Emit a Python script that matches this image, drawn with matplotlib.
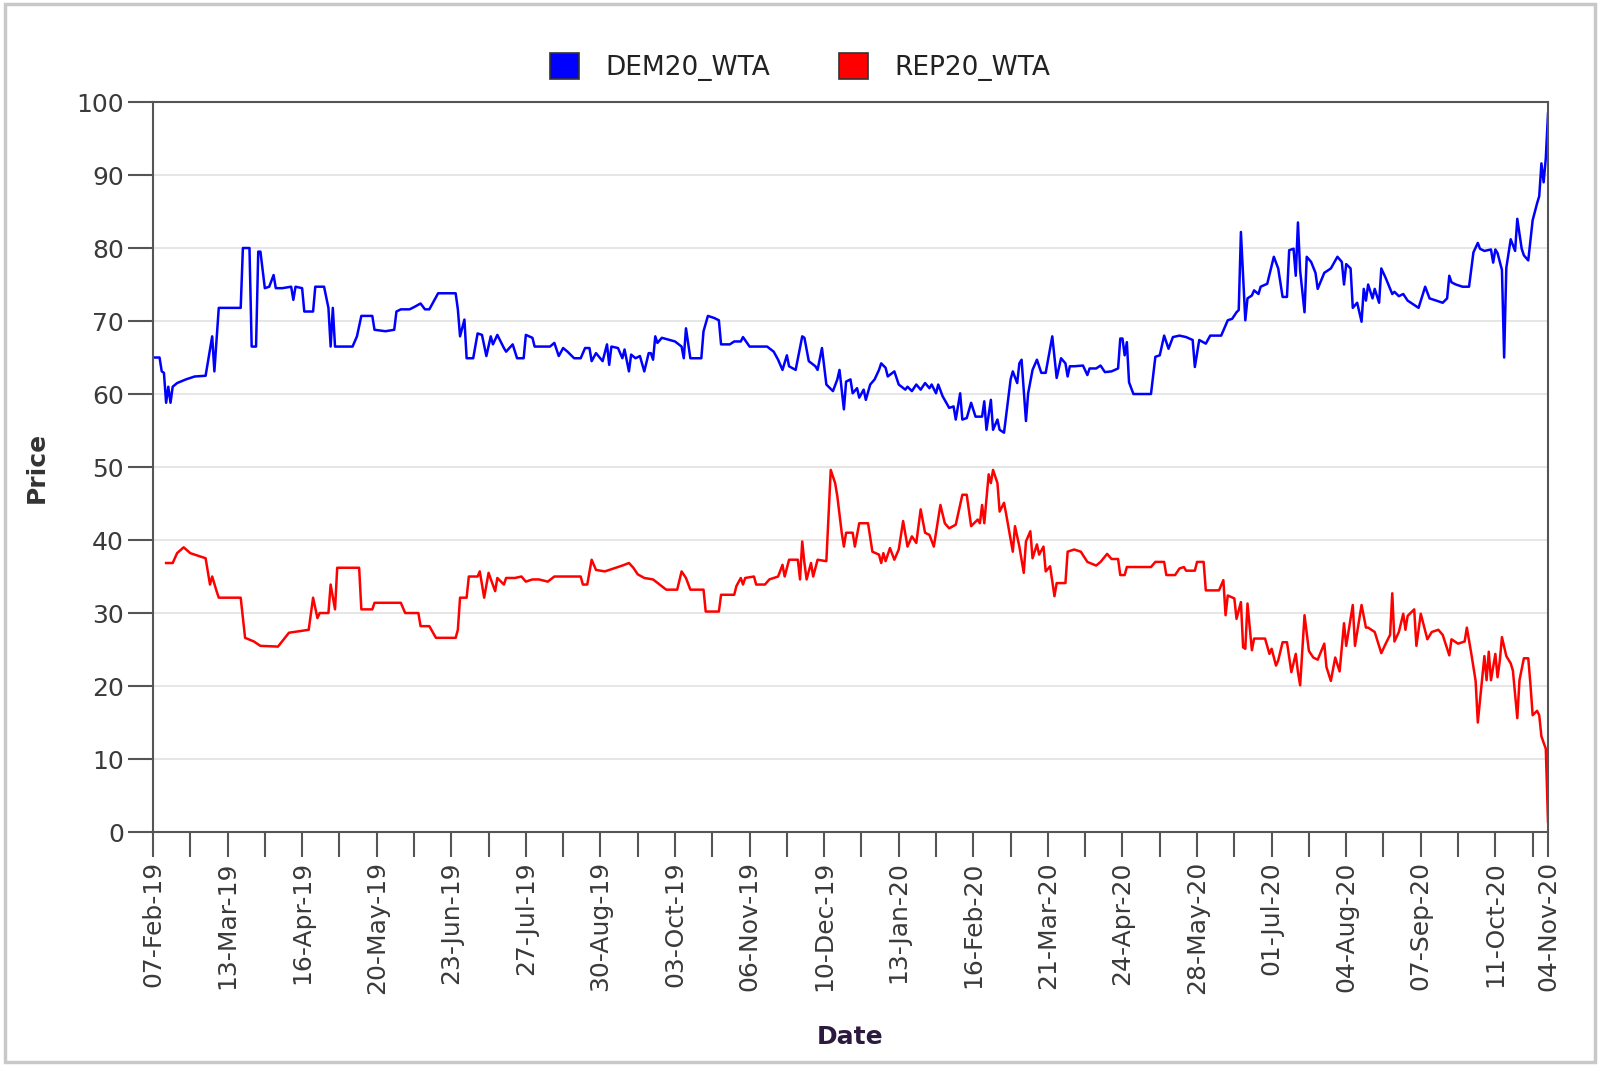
import datetime as dt
import matplotlib
matplotlib.use("Agg")
import matplotlib.pyplot as plt
import matplotlib.dates as mdates
from matplotlib.patches import Patch, Rectangle

# days counted from 07-Feb-2019, prices
start = dt.date(2019, 2, 7)
end = dt.date(2020, 11, 4)

dem_days = [0, 3, 4, 5, 6, 7, 8, 9, 11, 15, 19, 24, 27, 28, 30, 40, 41, 44, 45, 47, 48, 49, 51, 53, 55, 56, 59, 63,
            64, 65, 68, 69, 73, 74, 78, 80, 81, 82, 83, 91, 93, 95, 100, 101, 106,
            110, 111, 113, 117, 119, 122, 124, 126, 128, 130, 138, 139, 140, 142, 143, 146, 148, 150, 152, 154, 155,
            157, 160, 161, 164, 166, 169, 170, 173, 174, 181, 183, 185, 187, 189, 192, 195, 197, 199, 200, 202, 205,
            207, 208, 209,
            212, 214, 215, 217, 218, 220, 222, 224, 226, 227, 228, 229, 230, 232, 238, 241, 242, 243, 245, 250, 251,
            253, 256, 258, 259, 263, 265, 268, 269, 272, 280, 283, 285, 287, 289, 290, 293, 296, 297, 299, 302, 303,
            305, 307, 310, 312, 313, 315,
            316, 318, 319, 321, 322, 324, 325, 327, 329, 331, 332, 334, 335, 338, 340, 343, 344, 346, 348, 350, 352,
            354, 355, 357, 358, 360, 363, 365, 366, 368, 369, 371, 373, 375, 378, 379, 380, 382, 383, 385, 386, 388,
            391, 392, 394, 395, 396, 398, 399, 401, 403, 405, 407, 410, 412, 414, 416, 417, 418, 420,
            424, 426, 427, 430, 432, 434, 437, 440, 441, 442, 443, 444, 445, 447, 455, 457, 459, 461, 463, 465, 468,
            471, 474, 475, 477, 480, 482, 487, 490, 492, 494, 495, 496, 498, 499, 501, 502, 504, 505, 508, 511, 513,
            515, 517, 518, 520,
            521, 522, 523, 525, 526, 528, 530, 531, 534, 537, 540, 542, 543, 544, 546, 547, 549, 550, 551, 552, 553,
            554, 556, 557, 559, 560, 562, 565, 566, 568, 570, 572, 577, 580, 582, 585, 588, 590, 591, 592, 594, 597,
            600, 602, 604,
            605, 607, 610, 611, 612, 613, 615, 616, 617, 619, 621, 622, 624, 625, 627, 629, 631, 632, 633, 634, 635,
            636]
dem_price = [65, 65, 63.1, 62.9, 58.8, 61, 58.8, 61, 61.5, 62, 62.4, 62.5, 67.9, 63.1, 71.8, 71.8, 80, 80, 66.5,
             66.5, 79.5, 79.5, 74.5, 74.7, 76.3, 74.5, 74.5, 74.7, 72.9, 74.7, 74.5, 71.3, 71.3, 74.7, 74.7, 71.8,
             66.5, 71.8, 66.5, 66.5, 67.9, 70.7, 70.7, 68.8, 68.6,
             68.8, 71.3, 71.6, 71.6, 71.9, 72.4, 71.6, 71.6, 72.7, 73.8, 73.8, 71.6, 67.9, 70.2, 64.9, 64.9, 68.3,
             68.1, 65.2, 67.9, 66.8, 68.1, 66.3, 65.8, 66.8, 64.9, 64.9, 68.1, 67.7, 66.5, 66.5, 67, 65.2, 66.3,
             65.8, 64.9, 64.9, 66.3, 66.3, 64.5, 65.6, 64.5, 66.8, 64, 66.5,
             66.3, 64.9, 66.1, 63.1, 65.4, 64.9, 65.2, 63.1, 65.6, 65.6, 64.7, 67.9, 67, 67.7, 67.2, 66.5, 64.9, 69,
             64.9, 64.9, 68.6, 70.7, 70.4, 70.1, 66.8, 66.8, 67.2, 67.2, 67.8, 66.5, 66.5, 65.8, 64.7, 63.3, 65.3,
             63.8, 63.3, 67.9, 67.7, 64.5, 63.8, 63.3, 66.3, 61.3, 60.4, 62, 63.3, 57.9,
             61.7, 62, 60.1, 60.8, 59.5, 60.6, 59.2, 61.3, 62, 63.3, 64.2, 63.6, 62.4, 63.1, 61.3, 60.6, 61, 60.4,
             61.3, 60.6, 61.5, 60.8, 61.3, 60.1, 61.3, 59.7, 58.1, 58.3, 56.5, 60.1, 56.5, 56.7, 58.8, 56.9, 56.9,
             59, 55.1, 59.2, 55.1, 56.5, 55.1, 54.7, 62, 63.1, 61.5, 64.2, 64.7, 56.3, 60.1, 63.3, 64.7, 62.9, 62.9,
             67.9, 62.2, 64.9, 64.2, 62.4, 63.8, 63.8,
             63.9, 62.6, 63.5, 63.5, 63.9, 63, 63.1, 63.5, 67.6, 67.6, 65.3, 67.1, 61.6, 60, 60, 65.1, 65.3, 68, 66.2,
             67.8, 68, 67.8, 67.4, 63.7, 67.4, 66.9, 68, 68, 70.1, 70.3, 71.2, 71.5, 82.2, 70.1, 73.1, 73.5, 74.2,
             73.7, 74.7, 75.1, 78.8, 77.2, 73.3, 73.3, 79.7, 79.9,
             76.2, 83.5, 76.9, 71.2, 78.8, 78.1, 76.6, 74.4, 76.6, 77.2, 78.8, 78.1, 75, 77.8, 77.2, 71.8, 72.5,
             71.2, 69.9, 74.4, 72.8, 75, 73.1, 74.4, 72.5, 77.2, 75.9, 73.7, 74, 73.4, 73.7, 72.8, 71.8, 74.7, 73.1,
             72.8, 72.5, 73.1, 76.2, 75.3, 75, 74.7, 74.7, 79.4, 80.7,
             79.9, 79.6, 79.8, 78, 79.8, 79.3, 77, 65, 77.3, 81.2, 79.6, 84, 79.9, 79, 78.3, 83.8, 86.1, 87.1, 91.6,
             89, 92.3, 98.4]

rep_days = [6, 9, 11, 14, 17, 21, 24, 26, 27, 29, 30, 40, 42, 46, 49, 57, 62, 71, 73, 75, 76, 80, 81, 83, 84, 94, 95,
            100, 101,
            113, 115, 121, 122, 126, 129, 138, 139, 140, 143, 144, 148, 149, 151, 153, 156, 157, 160, 161, 165, 168,
            170, 173, 176, 180, 183, 195, 196, 198, 200, 202, 206,
            211, 214, 217, 219, 221, 224, 228, 231, 234, 239, 241, 243, 245, 251, 252, 258, 259, 265, 266, 268, 269,
            270, 274, 275, 279, 281, 285, 287, 288, 290, 294, 295, 296, 297, 298, 300, 301, 303, 307, 309, 311, 312,
            314, 315,
            316, 319, 320, 322, 326, 328, 331, 332, 333, 334, 336, 338, 340, 342, 344, 346, 348, 350, 352, 354, 356,
            359, 361, 363, 366, 369, 371, 373, 376, 377, 378, 379, 381, 382, 383, 385, 386, 388, 389, 392, 393, 395,
            397, 398, 400, 401, 403, 404, 406, 407, 409, 411, 412, 416, 417, 420,
            423, 426, 430, 432, 435, 437, 440, 441, 443, 444, 455, 457, 461, 462, 466, 468, 470, 471, 475, 476, 479,
            480, 486, 488, 489, 490, 493, 494, 496, 497, 498, 499, 501, 502, 507, 509, 510, 512, 513, 515, 517, 519,
            521, 522, 523, 525,
            527, 529, 531, 534, 535, 537, 539, 541, 543, 544, 547, 548, 551, 553, 554, 557, 560, 562, 564, 565, 566,
            568, 570, 571, 572, 575, 576, 578, 581, 583, 586, 588, 591, 592, 595, 598, 599, 601, 603, 604,
            607, 608, 609, 610, 612, 613, 614, 615, 617, 619, 620, 622, 623, 625, 627, 628, 629, 631, 632, 633, 635,
            636]
rep_price = [36.85, 36.85, 38.2, 39, 38.2, 37.8, 37.5, 33.9, 35, 33, 32.1, 32.1, 26.6, 26.1, 25.5, 25.4, 27.3, 27.7,
             32.1, 29.3, 30, 30, 33.9, 30.5, 36.2, 36.2, 30.5, 30.5, 31.4,
             31.4, 30, 30, 28.2, 28.2, 26.6, 26.6, 27.7, 32.1, 32.1, 35, 35, 35.7, 32.1, 35.5, 33, 34.8, 33.9, 34.8,
             34.8, 35, 34.3, 34.6, 34.6, 34.3, 35, 35, 33.9, 33.9, 37.3, 35.9, 35.7,
             36.2, 36.5, 36.85, 36.2, 35.3, 34.8, 34.6, 33.9, 33.2, 33.2, 35.7, 34.8, 33.2, 33.2, 30.2, 30.2, 32.5,
             32.5, 33.7, 34.8, 33.9, 34.8, 35, 33.9, 33.9, 34.6, 35, 36.6, 35, 37.3, 37.3, 34.6, 39.8, 36.85, 34.6,
             36.85, 35, 37.3, 37.1, 49.6, 47.8, 46, 41, 39.1,
             41, 41, 39.1, 42.3, 42.3, 38.4, 38, 36.85, 38.2, 37.1, 38.9, 37.3, 38.7, 42.6, 39.1, 40.5, 39.6, 44.2,
             41, 40.7, 39.1, 44.8, 42.3, 41.6, 42.1, 46.2, 46.2, 41.9, 42.8, 42.3, 44.8, 42.3, 49, 47.8, 49.6, 47.8,
             43.9, 45.1, 43.5, 38.4, 41.9, 39.1, 35.5, 39.8, 41.2, 37.5, 39.4, 38, 39.1, 35.7, 36.4, 32.3, 34.1,
             34.1, 38.4, 38.7,
             38.4, 37, 36.5, 37, 38.1, 37.4, 37.4, 35.2, 35.2, 36.3, 36.3, 37, 37, 35.2, 35.2, 36.1, 36.3, 35.8,
             35.8, 37, 37, 33.1, 33.1, 34.5, 29.7, 32.4, 32, 29.2, 31.5, 25.3, 25.1, 31.3, 24.9, 26.5, 26.5, 24.4,
             25.1, 22.8, 23.5, 26, 26, 21.9, 24.4, 21.9, 20.1, 29.7,
             24.8, 23.9, 23.6, 25.8, 22.6, 20.7, 23.9, 22, 28.6, 25.5, 31.1, 25.5, 31.1, 28, 28, 27.4, 24.5, 25.8,
             27, 32.7, 26.1, 27.4, 29.9, 27.7, 29.6, 30.5, 25.5, 29.9, 26.4, 27.4, 27.7, 27, 24.2, 26.4, 25.8, 26.1,
             28, 24.5, 20.7, 15,
             24.1, 20.8, 24.7, 20.8, 24.4, 21.2, 23.4, 26.7, 24.1, 23.1, 22.1, 15.6, 20.8, 23.8, 23.8, 20.2, 16,
             16.6, 16, 13.1, 11.4, 1.4]

series_names = ["DEM20_WTA", "REP20_WTA"]
series_colors = ["#0000ff", "#ff0000"]

dem_dates = [start + dt.timedelta(days=d) for d in dem_days]
rep_dates = [start + dt.timedelta(days=d) for d in rep_days]

plt.rcParams["font.family"] = "DejaVu Sans"
text_col = "#3a3a3a"
axis_col = "#555555"

fig = plt.figure(figsize=(16, 10.66), dpi=100)
fig.patch.set_facecolor("white")
fig.patches.append(Rectangle((0.003, 0.004), 0.994, 0.992, transform=fig.transFigure,
                             fill=False, edgecolor="#c8c8c8", linewidth=2.5))

ax = fig.add_axes([0.0956, 0.2195, 0.8719, 0.6848])
ax.plot(dem_dates, dem_price, color=series_colors[0], linewidth=1.8)
ax.plot(rep_dates, rep_price, color=series_colors[1], linewidth=1.8)

ax.set_xlim(start, end)
ax.set_ylim(0, 100)
ax.set_yticks(range(0, 101, 10))
ax.yaxis.grid(True, color="#e4e4e4", linewidth=1.3)
ax.set_axisbelow(True)

# labelled ticks every 34 days plus the last day, unlabelled ticks in between
major = [start + dt.timedelta(days=34 * k) for k in range(19)] + [end]
minor = [start + dt.timedelta(days=17 + 34 * k) for k in range(19)]
ax.xaxis.set_major_locator(matplotlib.ticker.FixedLocator(mdates.date2num(major)))
ax.xaxis.set_minor_locator(matplotlib.ticker.FixedLocator(mdates.date2num(minor)))
ax.xaxis.set_major_formatter(mdates.DateFormatter("%d-%b-%y"))

for s in ax.spines.values():
    s.set_color(axis_col)
    s.set_linewidth(1.5)

ax.tick_params(axis="both", which="both", direction="out", length=18, width=1.5, color=axis_col,
               labelcolor=text_col, labelsize=18)
ax.tick_params(axis="x", which="major", pad=3, labelrotation=90)
ax.tick_params(axis="y", pad=3)

ax.set_ylabel("Price", fontsize=18, fontweight="bold", color="#333333", labelpad=20)
ax.set_xlabel("Date", fontsize=18, fontweight="bold", color="#2b1a3d", labelpad=22)

handles = [Patch(facecolor=c, edgecolor="#333333", linewidth=1.2, label=n)
           for n, c in zip(series_names, series_colors)]
fig.legend(handles=handles, loc="center", bbox_to_anchor=(0.5, 0.937), ncol=2, frameon=False,
           fontsize=19, handlelength=1.1, handleheight=1.1, handletextpad=1.0, columnspacing=2.6,
           labelcolor="#222222")

fig.savefig("out.png", dpi=100, facecolor="white")
